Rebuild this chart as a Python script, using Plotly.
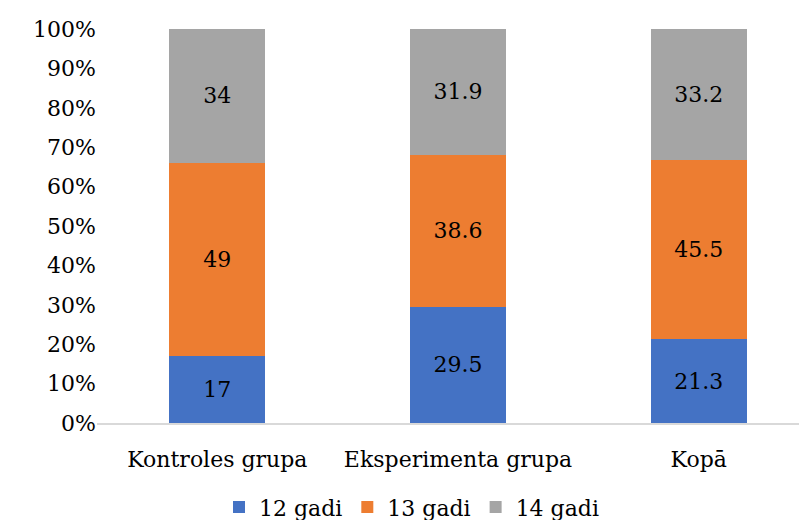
import plotly.graph_objects as go

groups = ["Kontroles grupa", "Eksperimenta grupa", "Kopā"]
series_names = ["12 gadi", "13 gadi", "14 gadi"]
age12 = [17, 29.5, 21.3]
age13 = [49, 38.6, 45.5]
age14 = [34, 31.9, 33.2]
colors = ["#4472C4", "#ED7D31", "#A5A5A5"]

font_family = "DejaVu Serif"
fsize = 22

fig = go.Figure()
for name, vals, col in zip(series_names, [age12, age13, age14], colors):
    fig.add_trace(go.Bar(
        x=groups, y=vals, name=name, marker_color=col, marker_line_width=0,
        width=0.4, text=[str(v) for v in vals], textposition="inside",
        insidetextanchor="middle", textangle=0,
        textfont=dict(color="black", size=fsize, family=font_family),
    ))

# page body has an 8px default margin, so margins are shifted by 8
fig.update_layout(
    barmode="stack",
    width=807, height=520,
    margin=dict(l=89, r=8, t=21, b=105),
    paper_bgcolor="white", plot_bgcolor="white",
    font=dict(family=font_family, size=fsize, color="black"),
    legend=dict(orientation="h", x=0.5, xanchor="center", xref="container",
                y=0.04, yanchor="middle", yref="container",
                font=dict(family=font_family, size=fsize), traceorder="normal", itemwidth=30),
)
fig.update_xaxes(range=[-0.5, 2.45], showline=True, linecolor="#D9D9D9", linewidth=2,
                 ticks="", showgrid=False, automargin=False, ticklabelstandoff=16,
                 tickfont=dict(family=font_family, size=fsize))
fig.update_yaxes(range=[0, 100], dtick=10, ticksuffix="%", showgrid=False,
                 zeroline=False, showline=False, ticks="", automargin=False,
                 tickfont=dict(family=font_family, size=fsize))

fig.write_html("out.html")
